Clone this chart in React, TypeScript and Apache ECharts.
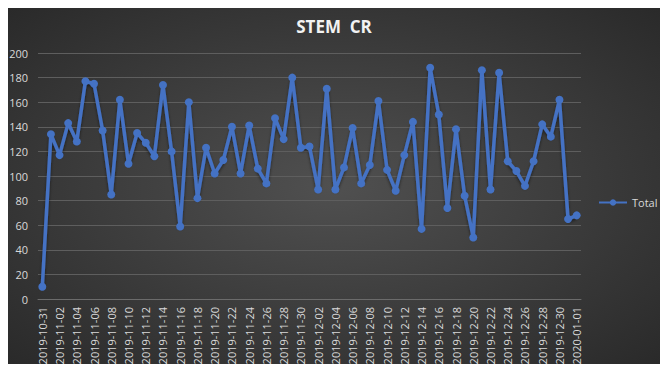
import React, { useEffect, useRef } from "react";
import * as echarts from "echarts";

const categories: string[] = [
  "2019-10-31",
  "2019-11-01","2019-11-02","2019-11-03","2019-11-04","2019-11-05","2019-11-06","2019-11-07","2019-11-08","2019-11-09","2019-11-10",
  "2019-11-11","2019-11-12","2019-11-13","2019-11-14","2019-11-15","2019-11-16","2019-11-17","2019-11-18","2019-11-19","2019-11-20",
  "2019-11-21","2019-11-22","2019-11-23","2019-11-24","2019-11-25","2019-11-26","2019-11-27","2019-11-28","2019-11-29","2019-11-30",
  "2019-12-01","2019-12-02","2019-12-03","2019-12-04","2019-12-05","2019-12-06","2019-12-07","2019-12-08","2019-12-09","2019-12-10",
  "2019-12-11","2019-12-12","2019-12-13","2019-12-14","2019-12-15","2019-12-16","2019-12-17","2019-12-18","2019-12-19","2019-12-20",
  "2019-12-21","2019-12-22","2019-12-23","2019-12-24","2019-12-25","2019-12-26","2019-12-27","2019-12-28","2019-12-29","2019-12-30",
  "2019-12-31","2020-01-01",
];

const totalValues: number[] = [
  10, 134, 117, 143, 128, 177, 175, 137, 85, 162,
  110, 135, 127, 116, 174, 120, 59, 160, 82, 123,
  102, 113, 140, 102, 141, 106, 94, 147, 130, 180,
  123, 124, 89, 171, 89, 107, 139, 94, 109, 161,
  105, 88, 117, 144, 57, 188, 150, 74, 138, 84,
  50, 186, 89, 184, 112, 104, 92, 112, 142, 132,
  162, 65, 68,
];

const yTicks = { min: 0, max: 200, interval: 20 };

export default function App() {
  const ref = useRef<HTMLDivElement>(null);
  useEffect(() => {
    if (!ref.current) return;
    const chart = echarts.init(ref.current, undefined, { renderer: "svg" });
    chart.setOption({
      animation: false,
      backgroundColor: new echarts.graphic.RadialGradient(0.5, 0.5, 0.75, [
        { offset: 0, color: "#505050" },
        { offset: 1, color: "#262626" },
      ]),
      title: {
        text: "STEM  CR",
        left: "center",
        top: 13,
        textStyle: {
          color: "#f2f2f2",
          fontSize: 17,
          fontWeight: "bold",
          fontFamily: "Open Sans, sans-serif",
        },
      },
      legend: {
        data: ["Total"],
        orient: "vertical",
        left: 598,
        top: 197,
        itemWidth: 28,
        itemHeight: 8,
        padding: 0,
        textStyle: { color: "#d9d9d9", fontSize: 11, fontFamily: "Open Sans, sans-serif" },
      },
      grid: { left: 38, right: 87, top: 53, bottom: 73, containLabel: false },
      xAxis: {
        type: "category",
        data: categories,
        boundaryGap: true,
        axisLine: { show: true, lineStyle: { color: "#6b6b6b", width: 1 } },
        axisTick: { show: false },
        axisLabel: {
          rotate: 90,
          interval: 1,
          color: "#d9d9d9",
          fontSize: 11,
          margin: 8,
          fontFamily: "Open Sans, sans-serif",
        },
      },
      yAxis: {
        type: "value",
        min: yTicks.min,
        max: yTicks.max,
        interval: yTicks.interval,
        axisLine: { show: false },
        axisTick: { show: false },
        axisLabel: { color: "#d9d9d9", fontSize: 11, margin: 10, fontFamily: "Open Sans, sans-serif" },
        splitLine: { lineStyle: { color: "#5e5e5e", width: 1 } },
      },
      series: [
        {
          name: "Total",
          type: "line",
          data: totalValues,
          symbol: "circle",
          symbolSize: 8,
          showAllSymbol: true,
          lineStyle: {
            color: "#4472C4",
            width: 3.5,
            shadowColor: "rgba(0,0,0,0.5)",
            shadowBlur: 3,
            shadowOffsetY: 2,
          },
          itemStyle: { color: "#4472C4" },
        },
      ],
    });
    return () => chart.dispose();
  }, []);
  return <div ref={ref} style={{ width: 668, height: 372, margin: -8 }} />;
}
